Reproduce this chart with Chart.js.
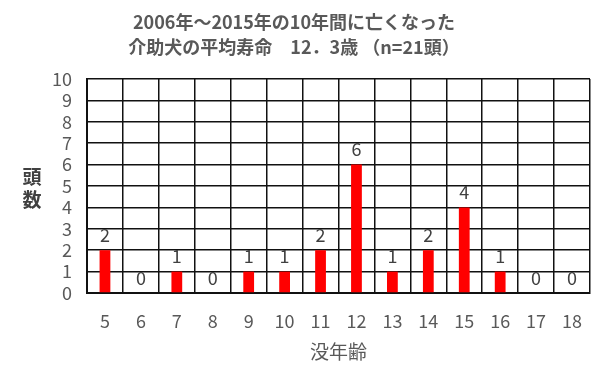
<!DOCTYPE html>
<html><head><meta charset="utf-8">
<script src="https://cdn.jsdelivr.net/npm/chart.js@4/dist/chart.umd.min.js"></script>
<style>html,body{margin:0;padding:0;background:#fff}#wrap{width:607px;height:382px}</style>
</head><body><div id="wrap"><canvas id="c" width="607" height="382"></canvas></div>
<script>
const ages = ['5','6','7','8','9','10','11','12','13','14','15','16','17','18'];
const counts = [2,0,1,0,1,1,2,6,1,2,4,1,0,0];
const titleLines = ['2006年～2015年の10年間に亡くなった','介助犬の平均寿命　12．3歳 （n=21頭）'];
const yTitleChars = ['頭','数'];
const xTitle = '没年齢';
const yMax = 10;

const FONT = '"Noto Sans CJK JP", "Noto Sans", sans-serif';

const textPlugin = {
  id: 'texts',
  afterDatasetsDraw(chart) {
    const ctx = chart.ctx;
    const xs = chart.scales.x, ys = chart.scales.y;
    ctx.save();
    ctx.textAlign = 'center';
    ctx.textBaseline = 'middle';
    // data labels
    ctx.fillStyle = '#404040';
    ctx.font = '18px ' + FONT;
    counts.forEach((v, i) => {
      const x = xs.getPixelForValue(i);
      const y = ys.getPixelForValue(v);
      ctx.fillText(String(v), x, y - 15);
    });
    // chart title
    ctx.fillStyle = '#595959';
    ctx.font = 'bold 18px ' + FONT;
    ctx.fillText(titleLines[0], 294, 22);
    ctx.fillText(titleLines[1], 294, 47);
    // y title
    ctx.fillStyle = '#404040';
    ctx.font = 'bold 19px ' + FONT;
    ctx.fillText(yTitleChars[0], 32, 177);
    ctx.fillText(yTitleChars[1], 32, 200);
    // x title
    ctx.fillStyle = '#595959';
    ctx.font = '19px ' + FONT;
    ctx.fillText(xTitle, (xs.left + xs.right) / 2, 352);
    ctx.restore();
  }
};

new Chart(document.getElementById('c'), {
  type: 'bar',
  data: {
    labels: ages,
    datasets: [{
      data: counts,
      backgroundColor: '#ff0000',
      borderWidth: 0,
      barPercentage: 0.3,
      categoryPercentage: 1.0
    }]
  },
  options: {
    responsive: false,
    animation: false,
    layout: { padding: { top: 79, right: 17, bottom: 0, left: 0 } },
    plugins: { legend: { display: false }, title: { display: false }, tooltip: { enabled: false } },
    scales: {
      x: {
        grid: { color: '#111', lineWidth: 1.5, drawTicks: false, offset: true },
        border: { color: '#111', width: 2 },
        ticks: { color: '#595959', font: { size: 18, family: FONT }, padding: 17, autoSkip: false, maxRotation: 0 },
        afterFit(s) { s.height = 89; }
      },
      y: {
        min: 0, max: yMax,
        grid: { color: '#111', lineWidth: 1.5, drawTicks: false },
        border: { color: '#111', width: 2 },
        ticks: { stepSize: 1, autoSkip: false, color: '#595959', font: { size: 18, family: FONT }, padding: 15 },
        afterFit(s) { s.width = 87; }
      }
    }
  },
  plugins: [textPlugin]
});
</script>
</body></html>
